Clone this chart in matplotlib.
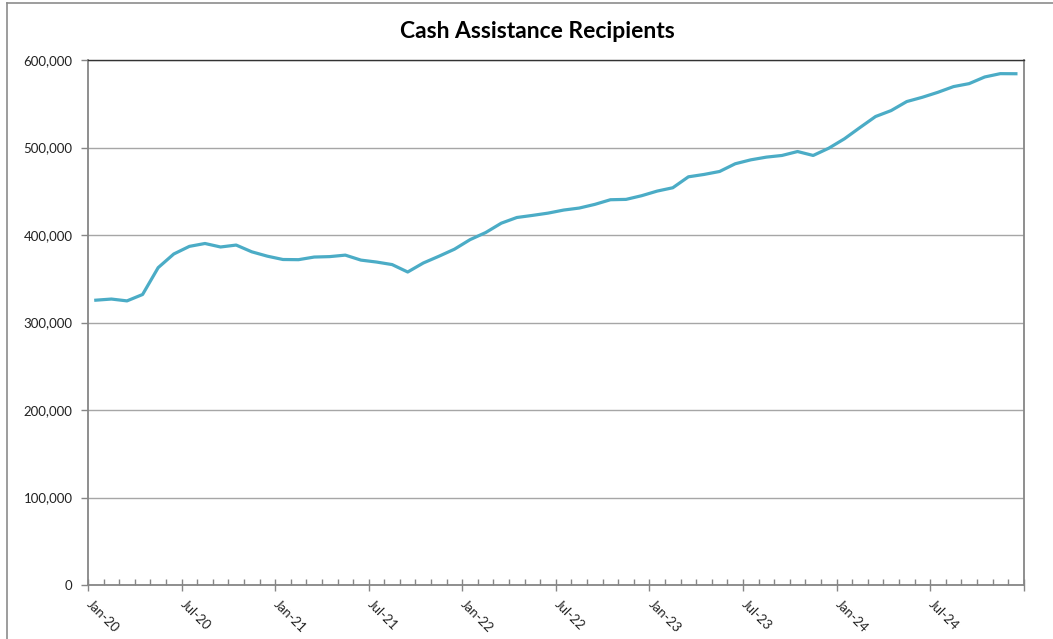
import matplotlib.pyplot as plt
import matplotlib.transforms as mtransforms
from matplotlib.lines import Line2D
from matplotlib.ticker import FuncFormatter, MultipleLocator

line_color = "#4BACC6"
axis_gray = "#868686"

months = ["Jan", "Feb", "Mar", "Apr", "May", "Jun",
          "Jul", "Aug", "Sep", "Oct", "Nov", "Dec"]
years = ["20", "21", "22", "23", "24"]
categories = [f"{m}-{y}" for y in years for m in months]

# Monthly recipients, Jan-20 .. Dec-24
recipients_2020 = [325500, 326800, 324700, 332000, 362700, 378300,
                   387000, 390300, 386300, 388500, 380800, 375800]
recipients_2021 = [372000, 371800, 374800, 375300, 377000, 371300,
                   369100, 366200, 357700, 368000, 375700, 383800]
recipients_2022 = [394700, 402800, 413500, 420000, 422400, 425000,
                   428500, 430800, 435000, 440300, 440700, 444900]
recipients_2023 = [450200, 454000, 466500, 469200, 472600, 481400,
                   485900, 489000, 490900, 495400, 490900, 499200]
recipients_2024 = [509900, 522800, 535400, 542200, 552500, 557400,
                   563100, 569600, 573000, 580600, 584400, 584300]
recipients = (recipients_2020 + recipients_2021 + recipients_2022
              + recipients_2023 + recipients_2024)

y_ticks = [0, 100000, 200000, 300000, 400000, 500000, 600000]

fig = plt.figure(figsize=(10.53, 6.39), dpi=100)
ax = fig.add_axes([88 / 1053, 1 - 585 / 639, (1023.7 - 88) / 1053, (585 - 60) / 639])

x = [i + 0.5 for i in range(len(recipients))]
ax.plot(x, recipients, color=line_color, linewidth=2.3, solid_joinstyle="round")

ax.set_xlim(0, len(categories))
ax.set_ylim(0, 600000)

ax.set_yticks(y_ticks)
ax.yaxis.set_major_formatter(FuncFormatter(lambda v, p: f"{int(v):,}"))
ax.grid(axis="y", color="#a6a6a6", linewidth=1.0)
ax.set_axisbelow(True)

major = list(range(0, len(categories) + 1, 6))
ax.set_xticks(major)
ax.set_xticklabels([])
# slanted labels, drawn a little right of and below each tick
label_tr = ax.get_xaxis_transform() + mtransforms.ScaledTranslation(
    5 / 100, -13 / 100, fig.dpi_scale_trans)
for i in major:
    if i < len(categories):
        ax.text(i, 0, categories[i], transform=label_tr, rotation=-45,
                ha="left", va="top", rotation_mode="anchor",
                fontsize=9.5, family="Lato", color="#222222")
ax.xaxis.set_minor_locator(MultipleLocator(1))
ax.tick_params(axis="x", which="major", direction="inout", length=9, width=1,
               color=axis_gray)
ax.tick_params(axis="x", which="minor", direction="in", length=4, width=1,
               color=axis_gray)
ax.tick_params(axis="y", which="major", direction="out", length=5, width=1,
               color=axis_gray, pad=6)
for lbl in ax.get_yticklabels():
    lbl.set_fontsize(9.5)
    lbl.set_family("Lato")
    lbl.set_color("#222222")

for side in ["left", "right", "bottom"]:
    ax.spines[side].set_color(axis_gray)
    ax.spines[side].set_linewidth(1.3)
ax.spines["top"].set_color("#333333")
ax.spines["top"].set_linewidth(1.0)

fig.text(537 / 1053, 1 - 31 / 639, "Cash Assistance Recipients", ha="center", va="center",
         fontsize=16.5, fontweight="bold", family="Lato", color="black")

# outer chart frame (only top and left visible in the crop)
fig.add_artist(Line2D([7 / 1053, 1], [1 - 3 / 639, 1 - 3 / 639], transform=fig.transFigure,
                      color="#8c8c8c", linewidth=1.2))
fig.add_artist(Line2D([7 / 1053, 7 / 1053], [0, 1 - 3 / 639], transform=fig.transFigure,
                      color="#8c8c8c", linewidth=1.2))

fig.savefig("out.png", dpi=100, facecolor="white")
